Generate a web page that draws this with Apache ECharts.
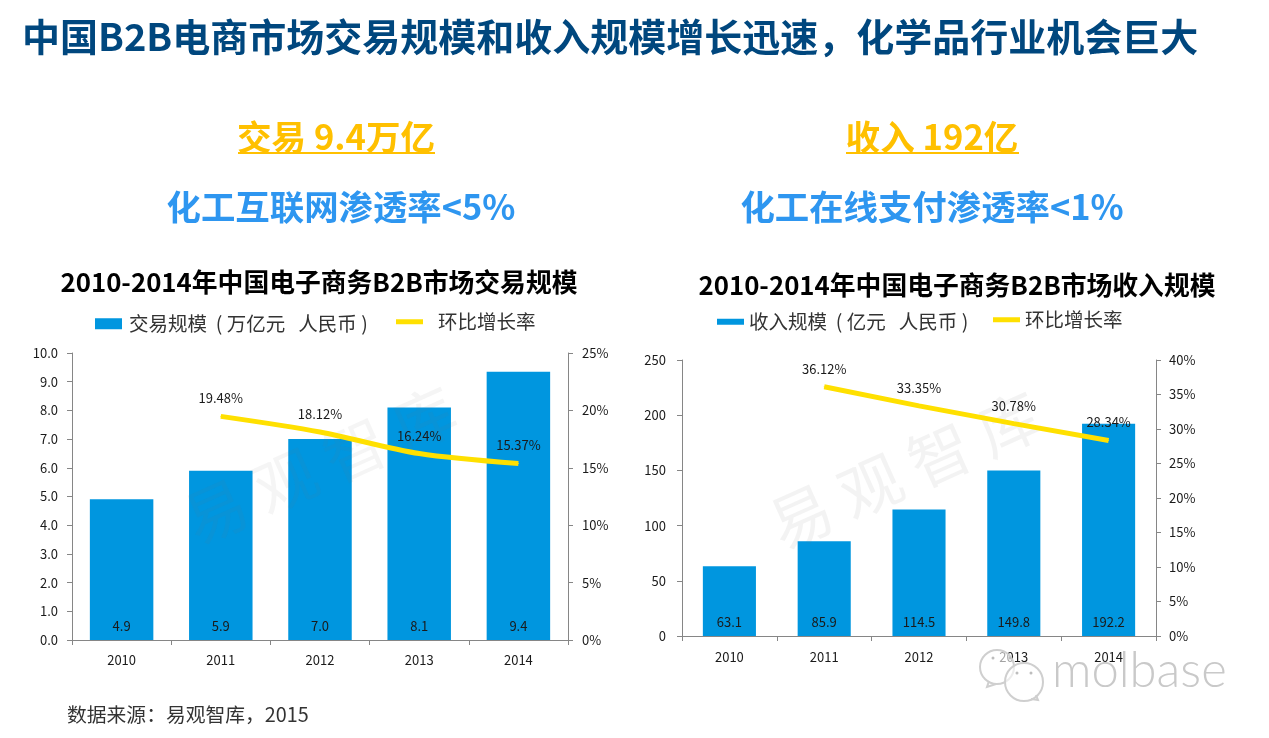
<!DOCTYPE html>
<html><head><meta charset="utf-8">
<style>html,body{margin:0;padding:0;background:#fff}#c{width:1269px;height:738px}</style>
<script src="https://cdn.jsdelivr.net/npm/echarts@6/dist/echarts.min.js"></script>
</head><body><div id="c"></div>
<script>
const FONT = '"Noto Sans CJK SC","Noto Sans",sans-serif';
const years = ['2010','2011','2012','2013','2014'];
const tradeValues = [4.9,5.9,7.0,8.1,9.35];
const tradeLabels = ['4.9','5.9','7.0','8.1','9.4'];
const tradeGrowth = [null,19.48,18.12,16.24,15.37];
const revenueValues = [63.1,85.9,114.5,149.8,192.2];
const revenueGrowth = [null,36.12,33.35,30.78,28.34];
const tradeName = '交易规模  ( 万亿元   人民币 )';
const revenueName = '收入规模  ( 亿元   人民币 )';
const growthName = '环比增长率';

const AXC = '#868686', BLUE = '#0096DF', YEL = '#FFE000', TXT = '#1a1a1a';
const axisLine = {show:true,lineStyle:{color:AXC,width:1}};
const axisTick = {show:true,length:5,lineStyle:{color:AXC}};
const label = {color:TXT,fontSize:13,fontFamily:FONT};

function cat(i,m){return {type:'category',gridIndex:i,data:years,axisLine,axisTick,axisLabel:{...label,margin:m}};}
function val(i,o){return Object.assign({type:'value',gridIndex:i,min:0,splitLine:{show:false},axisLine,axisTick},o);}
function text(t,x,y,size,color,bold,align){return {type:'text',x,y,z:10,style:{text:t,x:0,y:0,fontSize:size,fontWeight:bold?'bold':'normal',fontFamily:FONT,fill:color,align:align||'center',verticalAlign:'middle'}};}
function under(x1,x2,y){return {type:'line',z:10,shape:{x1,y1:y,x2,y2:y},style:{stroke:'#FFC000',lineWidth:2}};}
function bubble(cx,cy,r){return {type:'circle',z:20,shape:{cx,cy,r},style:{fill:'rgba(255,255,255,0.6)',stroke:'#cfcfcf',lineWidth:2}};}
function dot(cx,cy){return {type:'circle',z:21,shape:{cx,cy,r:1.5},style:{fill:'#bdbdbd'}};}
function tail(points){return {type:'polyline',z:21,shape:{points},style:{stroke:'#cfcfcf',lineWidth:2,fill:'none'}};}
function legendOf(name,left,top,h,color,pad){return {left,top,itemWidth:27,itemHeight:h,textStyle:{fontSize:19.5,color:'#333',fontFamily:FONT,padding:[0,0,0,pad]},data:[{name,icon:'rect',itemStyle:{color}}]};}
function pct(p){return p.value==null?'':p.value.toFixed(2)+'%';}
const lineLabel = {show:true,position:'top',distance:11,fontSize:13,color:TXT,fontFamily:FONT,formatter:pct};
const barLabel = {show:true,position:'insideBottom',distance:7,fontSize:13,color:TXT,fontFamily:FONT};

const chart = echarts.init(document.getElementById('c'),null,{renderer:'canvas'});
chart.setOption({
  animation:false,
  backgroundColor:'#fff',
  textStyle:{fontFamily:FONT},
  grid:[
    {left:72,top:353,width:496,height:287},
    {left:682,top:360,width:474,height:276}
  ],
  legend:[
    legendOf(tradeName,90,309,11,BLUE,2),
    legendOf(growthName+' ',391,307,5,YEL,10),
    legendOf(revenueName,712,307,6,BLUE,0),
    legendOf(growthName,988,305,5,YEL,0)
  ],
  xAxis:[cat(0,14),cat(1,15)],
  yAxis:[
    val(0,{max:10,interval:1,axisLabel:{...label,padding:[5,0,0,0],margin:14,formatter:v=>v.toFixed(1)}}),
    val(0,{max:25,interval:5,position:'right',axisLabel:{...label,padding:[5,0,0,0],margin:14,formatter:'{value}%'}}),
    val(1,{max:250,interval:50,axisLabel:{...label,padding:[5,0,0,0],margin:16}}),
    val(1,{max:40,interval:5,position:'right',axisLabel:{...label,padding:[5,0,0,0],margin:13,formatter:'{value}%'}})
  ],
  series:[
    {name:tradeName,type:'bar',xAxisIndex:0,yAxisIndex:0,data:tradeValues,barWidth:'64%',itemStyle:{color:BLUE},
     label:{...barLabel,formatter:p=>tradeLabels[p.dataIndex]}},
    {name:growthName+' ',type:'line',xAxisIndex:0,yAxisIndex:1,data:tradeGrowth,smooth:0.3,showSymbol:true,symbol:'circle',symbolSize:1,z:5,
     itemStyle:{color:YEL},lineStyle:{color:YEL,width:5},label:lineLabel},
    {name:revenueName,type:'bar',xAxisIndex:1,yAxisIndex:2,data:revenueValues,barWidth:'56%',itemStyle:{color:BLUE},
     label:{...barLabel,formatter:p=>p.value.toFixed(1)}},
    {name:growthName,type:'line',xAxisIndex:1,yAxisIndex:3,data:revenueGrowth,showSymbol:true,symbol:'circle',symbolSize:1,z:5,
     itemStyle:{color:YEL},lineStyle:{color:YEL,width:5},label:lineLabel}
  ],
  graphic:[
    text('中国B2B电商市场交易规模和收入规模增长迅速，化学品行业机会巨大',22,37,38,'#00477E',true,'left'),
    text('交易 9.4万亿',336,137,34.6,'#FFC000',true),
    under(238,435,153),
    text('收入 192亿',932,137,34.6,'#FFC000',true),
    under(846,1019,153),
    text('化工互联网渗透率<5%',341,207,34.4,'#2E96F0',true),
    text('化工在线支付渗透率<1%',932,207,34.4,'#2E96F0',true),
    text('2010-2014年中国电子商务B2B市场交易规模',319,282,25.8,'#000',true),
    text('2010-2014年中国电子商务B2B市场收入规模',957,285,25.8,'#000',true),
    text('数据来源：易观智库，2015',67,714,19.8,'#333',false,'left'),
    {type:'text',x:320,y:465,rotation:0.42,z:4,style:{text:'易 观 智 库',x:0,y:0,fontSize:62,fontFamily:FONT,fill:'rgba(120,120,120,0.07)',align:'center',verticalAlign:'middle'}},
    {type:'text',x:905,y:470,rotation:0.42,z:4,style:{text:'易 观 智 库',x:0,y:0,fontSize:62,fontFamily:FONT,fill:'rgba(120,120,120,0.09)',align:'center',verticalAlign:'middle'}},
    bubble(997,667,17),
    bubble(1024,682,19),
    tail([[989,681],[987,687],[996,684]]),
    tail([[1031,699],[1038,700],[1036,695]]),
    dot(993,658),dot(1010,658),dot(1017,673),dot(1031,673),
    {type:'text',x:1052,y:671,z:21,style:{text:'molbase',x:0,y:0,fontSize:49,fontWeight:300,fontFamily:'Lato,"Open Sans",sans-serif',fill:'#c9c9c9',align:'left',verticalAlign:'middle'}}
  ]
});
</script></body></html>
